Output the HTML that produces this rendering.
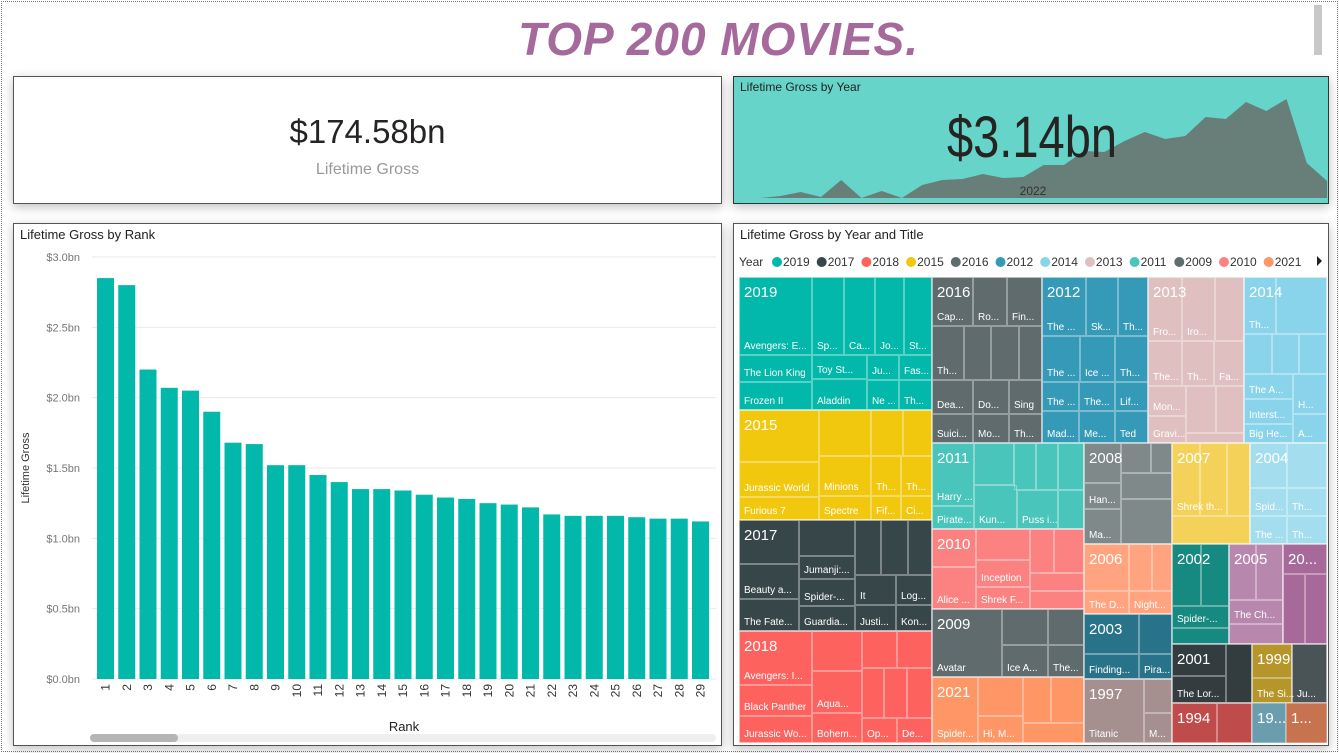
<!DOCTYPE html>
<html><head><meta charset="utf-8">
<style>
*{margin:0;padding:0;box-sizing:border-box}
body{width:1339px;height:753px;background:#fff;position:relative;overflow:hidden;font-family:"Liberation Sans",sans-serif}
.frame{position:absolute;left:1px;top:1px;width:1337px;height:751px;border:1px dotted #777}
.panel{position:absolute;background:#fff;border:1px solid #555;box-shadow:0 3px 10px rgba(0,0,0,.25)}
.ptitle{position:absolute;left:6px;top:3px;font-size:13px;color:#222}
</style></head><body>
<div class="frame"></div>
<div style="position:absolute;left:0;width:1437px;top:12px;text-align:center;font:italic bold 46px 'Liberation Sans Narrow','Liberation Sans',sans-serif;color:#a5699c;letter-spacing:1px">TOP 200 MOVIES.</div>
<div style="position:absolute;left:1314px;top:5px;width:8px;height:50px;background:#c8c8c8"></div>

<div class="panel" style="left:13px;top:76px;width:709px;height:128px">
  <div style="position:absolute;left:0;right:0;top:36px;text-align:center;font:33px 'Liberation Sans Narrow','Liberation Sans',sans-serif;color:#252423">$174.58bn</div>
  <div style="position:absolute;left:0;right:0;top:84px;text-align:center;font-size:16px;color:#999">Lifetime Gross</div>
</div>

<div class="panel" style="left:733px;top:76px;width:596px;height:128px;background:#66d4c9;border-color:#333">
  <div class="ptitle" style="font-size:12px">Lifetime Gross by Year</div>
</div>
<svg id="spark" width="1339" height="753" style="position:absolute;left:0;top:0"></svg>

<div class="panel" style="left:13px;top:223px;width:709px;height:523px">
  <div class="ptitle">Lifetime Gross by Rank</div>
</div>
<svg id="bars" width="1339" height="753" style="position:absolute;left:0;top:0"></svg>

<div class="panel" style="left:733px;top:223px;width:596px;height:523px">
  <div class="ptitle">Lifetime Gross by Year and Title</div>
</div>
<svg id="tree" width="1339" height="753" style="position:absolute;left:0;top:0;font-family:'Liberation Sans',sans-serif"></svg>

<script>
// ---- rank bar chart data ----
const ranks = [1,2,3,4,5,6,7,8,9,10,11,12,13,14,15,16,17,18,19,20,21,22,23,24,25,26,27,28,29];
const grossBn = [2.85,2.80,2.20,2.07,2.05,1.90,1.68,1.67,1.52,1.52,1.45,1.40,1.35,1.35,1.34,1.31,1.29,1.28,1.25,1.24,1.22,1.17,1.16,1.16,1.16,1.15,1.14,1.14,1.12];
const yTicks = [0,0.5,1.0,1.5,2.0,2.5,3.0];
const yTickLabels = ["$0.0bn","$0.5bn","$1.0bn","$1.5bn","$2.0bn","$2.5bn","$3.0bn"];

// ---- sparkline data (relative yearly gross) ----
const sparkValues = [0,0,2,6,1,18,0,7,0,13,18,19,24,20,21,33,33,47,46,57,66,59,62,81,79,96,87,99,35,17];

// ---- treemap data ----
const legendYears = ["2019","2017","2018","2015","2016","2012","2014","2013","2011","2009","2010","2021"];
const legendColors = ["#01b8aa","#374649","#fd625e","#f2c80f","#5f6b6d","#3599b8","#8ad4eb","#dfbfbf","#4ac5bb","#5f6b6d","#fb8281","#fe9666"];
const yearNames = ["2019","2015","2017","2018","2016","2012","2013","2014","2011","2010","2009","2021","2008","2007","2004","2006","2003","1997","2002","2005","20...","2001","1999","","1994","19...","1..."];
const yearColors = ["#01b8aa","#f2c80f","#374649","#fd625e","#5f6b6d","#3599b8","#dfbfbf","#8ad4eb","#4ac5bb","#fb8281","#5f6b6d","#fe9666","#7f898a","#f4d25a","#a4ddee","#ffa47e","#28738a","#a68f8f","#168980","#b887ad","#a66999","#333d40","#b6962b","#4a5456","#c04b4b","#6a9eae","#c8734f"];
const yearRects = [[739,277,193,133],[739,410,193,110],[739,520,193,111],[739,631,193,112],[932,277,110,166],[1042,277,106,166],[1148,277,96,166],[1244,277,83,166],[932,443,152,86],[932,529,152,80],[932,609,152,68],[932,677,152,66],[1084,443,88,101],[1172,443,78,101],[1250,443,77,101],[1084,544,88,70],[1084,614,88,65],[1084,679,88,64],[1172,544,57,100],[1229,544,54,100],[1283,544,44,100],[1172,644,80,59],[1252,644,40,59],[1292,644,35,59],[1172,703,80,40],[1252,703,34,40],[1286,703,41,40]];
const cells = [
[739,277,73,78,"Avengers: E..."],[812,277,32,78,"Sp..."],[844,277,31,78,"Ca..."],[875,277,29,78,"Jo..."],[904,277,28,78,"St..."],
[739,355,73,27,"The Lion King"],[739,382,73,28,"Frozen II"],[812,355,55,24,"Toy St..."],[812,379,55,31,"Aladdin"],[867,355,32,25,"Ju..."],[867,380,32,30,"Ne ..."],[899,355,33,25,"Fas..."],[899,380,33,30,"Th..."],
[739,410,80,52,""],[739,462,80,35,"Jurassic World"],[739,497,80,23,"Furious 7"],[819,410,52,46,""],[871,410,32,46,""],[903,410,29,46,""],[819,456,52,40,"Minions"],[819,496,52,24,"Spectre"],[871,456,30,40,"Th..."],[901,456,31,40,"Th..."],[871,496,30,24,"Fif..."],[901,496,31,24,"Ci..."],
[739,520,60,44,""],[739,564,60,35,"Beauty a..."],[739,599,60,32,"The Fate..."],[799,520,56,36,""],[799,556,56,23,"Jumanji:..."],[799,579,56,27,"Spider-..."],[799,606,56,25,"Guardia..."],[855,520,26,55,""],[881,520,27,55,""],[908,520,24,55,""],[855,575,41,30,"It"],[896,575,36,30,"Log..."],[855,605,41,26,"Justi..."],[896,605,36,26,"Kon..."],
[739,631,73,54,"Avengers: I..."],[739,685,73,31,"Black Panther"],[739,716,73,27,"Jurassic Wo..."],[812,631,50,40,""],[812,671,50,42,"Aqua..."],[812,713,50,30,"Bohem..."],[862,631,35,37,""],[897,631,35,37,""],[862,668,22,50,""],[884,668,23,50,""],[907,668,25,50,""],[862,718,35,25,"Op..."],[897,718,35,25,"De..."],
[932,277,41,49,"Cap..."],[973,277,34,49,"Ro..."],[1007,277,35,49,"Fin..."],[932,326,32,54,"Th..."],[964,326,27,54,""],[991,326,28,54,""],[1019,326,23,54,""],[932,380,41,34,"Dea..."],[973,380,36,34,"Do..."],[1009,380,33,34,"Sing"],[932,414,41,29,"Suici..."],[973,414,36,29,"Mo..."],[1009,414,33,29,"Th..."],
[1042,277,44,59,"The ..."],[1086,277,32,59,"Sk..."],[1118,277,30,59,"Th..."],[1042,336,38,46,"The ..."],[1080,336,35,46,"Ice ..."],[1115,336,33,46,"Th..."],[1042,382,37,29,"The ..."],[1079,382,36,29,"The..."],[1115,382,33,29,"Lif..."],[1042,411,37,32,"Mad..."],[1079,411,36,32,"Me..."],[1115,411,33,32,"Ted"],
[1148,277,34,64,"Fro..."],[1182,277,33,64,"Iro..."],[1215,277,29,64,""],[1148,341,34,45,"The..."],[1182,341,32,45,"Th..."],[1214,341,30,45,"Fa..."],[1148,386,38,30,"Mon..."],[1148,416,38,27,"Gravi..."],[1186,386,30,47,""],[1216,386,28,47,""],[1186,433,58,10,""],
[1244,277,32,57,"Th..."],[1276,277,51,57,""],[1244,334,28,40,""],[1272,334,27,40,""],[1299,334,28,40,""],[1244,374,49,25,"The A..."],[1244,399,49,25,"Interst..."],[1244,424,49,19,"Big He..."],[1293,374,34,40,"H..."],[1293,414,34,29,"A..."],
[932,443,42,63,"Harry ..."],[974,443,40,42,""],[1014,443,22,47,""],[1036,443,22,47,""],[1058,443,26,47,""],[932,506,42,23,"Pirate..."],[974,485,43,44,"Kun..."],[1017,490,41,39,"Puss i..."],[1058,490,26,39,""],
[932,529,44,38,""],[932,567,44,42,"Alice ..."],[976,529,54,31,""],[976,560,54,27,"Inception"],[976,587,54,22,"Shrek F..."],[1030,529,24,44,""],[1054,529,30,44,""],[1030,573,54,18,""],[1030,591,54,18,""],
[932,609,70,68,"Avatar"],[1002,609,46,36,""],[1048,609,36,36,""],[1002,645,46,32,"Ice A..."],[1048,645,36,32,"The..."],
[932,677,46,66,"Spider..."],[978,677,45,39,""],[1023,677,28,46,""],[1051,677,33,46,""],[978,716,45,27,"Hi, M..."],[1023,723,61,20,""],
[1084,443,37,40,""],[1121,443,30,30,""],[1151,443,21,30,""],[1084,483,37,26,"Han..."],[1084,509,37,35,"Ma..."],[1121,473,51,26,""],[1121,499,51,45,""],
[1172,443,28,73,"Shrek th..."],[1200,443,27,73,""],[1227,443,23,73,""],[1172,516,78,28,""],
[1250,443,37,45,""],[1287,443,40,45,""],[1250,488,37,28,"Spid..."],[1287,488,40,28,"Th..."],[1250,516,37,28,"The ..."],[1287,516,40,28,"Th..."],
[1084,544,45,47,""],[1129,544,23,47,""],[1152,544,20,47,""],[1084,591,45,23,"The D..."],[1129,591,43,23,"Night..."],
[1084,614,55,40,""],[1139,614,33,40,""],[1084,654,55,25,"Finding..."],[1139,654,33,25,"Pira..."],
[1084,679,60,64,"Titanic"],[1144,679,28,34,""],[1144,713,28,30,"M..."],
[1172,544,29,62,""],[1201,544,28,62,""],[1172,606,57,22,"Spider-..."],[1172,628,57,16,""],
[1229,544,27,56,""],[1256,544,27,56,""],[1229,600,54,24,"The Ch..."],[1229,624,54,20,""],
[1283,544,44,30,""],[1283,574,22,70,""],[1305,574,22,70,""],
[1172,644,54,32,""],[1172,676,54,27,"The Lor..."],[1226,644,26,59,""],
[1252,644,40,34,""],[1252,678,40,25,"The Si..."],[1292,644,35,59,"Ju..."],
[1172,703,45,40,""],[1217,703,35,40,""]
];

const NS="http://www.w3.org/2000/svg";
function mk(parent,tag,attrs){const e=document.createElementNS(NS,tag);for(const k in attrs)e.setAttribute(k,attrs[k]);parent.appendChild(e);return e;}

// ---- bar chart ----
(function(){
  const svg=document.getElementById('bars');
  const x0=97, pitch=21.25, bw=17, yBase=679, yTop=257, vMax=3.0;
  const ys=v=>yBase-(v/vMax)*(yBase-yTop);
  const xs=i=>x0+i*pitch;
  yTicks.forEach((t,i)=>{
    const g=mk(svg,'line',{x1:92,x2:716,y1:ys(t),y2:ys(t),stroke:'#eaeaea','stroke-width':1});
    
    
    const tx=mk(svg,'text',{x:80,y:ys(t)+4,'text-anchor':'end','font-size':11,fill:'#777'});
    tx.textContent=yTickLabels[i];
    
    
  });
  grossBn.forEach((v,i)=>{
    const r=mk(svg,'rect',{x:xs(i),y:ys(v),width:bw,height:yBase-ys(v),fill:'#01b8aa'});
    
    
    const cx=xs(i)+bw/2+4, cy=684;
    const t=mk(svg,'text',{x:cx,y:cy,'text-anchor':'end','font-size':12,fill:'#333',transform:`rotate(-90 ${cx} ${cy})`});
    t.textContent=ranks[i];
    
    
  });
  const xt=mk(svg,'text',{x:404,y:731,'text-anchor':'middle','font-size':13,fill:'#222'});
  xt.textContent='Rank';
  
  
  const yt=mk(svg,'text',{x:29,y:468,'text-anchor':'middle','font-size':11,fill:'#333',transform:'rotate(-90 29 468)'});
  yt.textContent='Lifetime Gross';
  
  
  const sb=mk(svg,'rect',{x:90,y:734,width:626,height:8,rx:4,fill:'#efefef'});
  
  
  const th=mk(svg,'rect',{x:90,y:734,width:88,height:8,rx:4,fill:'#b5b5b5'});
  
  
})();

// ---- sparkline ----
(function(){
  const svg=document.getElementById('spark');
  const xA=740, xB=1327, base=198;
  const xs=i=>xA+i*(xB-xA)/(sparkValues.length-1);
  const ys=v=>base-v;
  let d=`M${xA},${base}`;
  sparkValues.forEach((v,i)=>{d+=` L${xs(i).toFixed(1)},${ys(v)}`;});
  d+=` L${xB},${base} Z`;
  const p=mk(svg,'path',{d:d,fill:'#677e79'});
  
  
  const v=mk(svg,'text',{x:947,y:157,'font-size':58,fill:'#252423',textLength:170,lengthAdjust:'spacingAndGlyphs','font-family':"'Liberation Sans Narrow','Liberation Sans',sans-serif"});
  v.textContent='$3.14bn';
  
  
  const y=mk(svg,'text',{x:1033,y:195,'text-anchor':'middle','font-size':12,fill:'#333'});
  y.textContent='2022';
  
  
})();

// ---- treemap ----
(function(){
  const svg=document.getElementById('tree');
  let lx=739;
  const lt=mk(svg,'text',{x:lx,y:266,'font-size':12,fill:'#333'});
  lt.textContent='Year';
  
  
  lx=772;
  legendYears.forEach((yr,i)=>{
    const c=mk(svg,'circle',{cx:lx+5,cy:262,r:5,fill:legendColors[i]});
    
    
    const t=mk(svg,'text',{x:lx+11,y:266,'font-size':12,fill:'#333'});
    t.textContent=yr;
    
    
    lx+=44.7;
  });
  const ar=mk(svg,'path',{d:'M1317,256 L1322,261 L1317,266 Z',fill:'#222'});
  
  
  yearRects.forEach((r,i)=>{
    const e=mk(svg,'rect',{x:r[0],y:r[1],width:r[2],height:r[3],fill:yearColors[i],stroke:'#fff','stroke-opacity':0.6,'stroke-width':1});
    
    
  });
  cells.forEach(c=>{
    const e=mk(svg,'rect',{x:c[0]+0.5,y:c[1]+0.5,width:c[2]-1,height:c[3]-1,fill:'none',stroke:'#fff','stroke-opacity':0.35,'stroke-width':1});
    
    
    if(c[4]){
      const t=mk(svg,'text',{x:c[0]+5,y:c[1]+c[3]-6,'font-size':10,fill:'#fff'});
      t.textContent=c[4];
      
      
    }
  });
  yearRects.forEach((r,i)=>{
    if(!yearNames[i])return;
    const t=mk(svg,'text',{x:r[0]+5,y:r[1]+20,'font-size':15,fill:'#fff'});
    t.textContent=yearNames[i];
    
    
  });
})();
</script>
</body></html>
